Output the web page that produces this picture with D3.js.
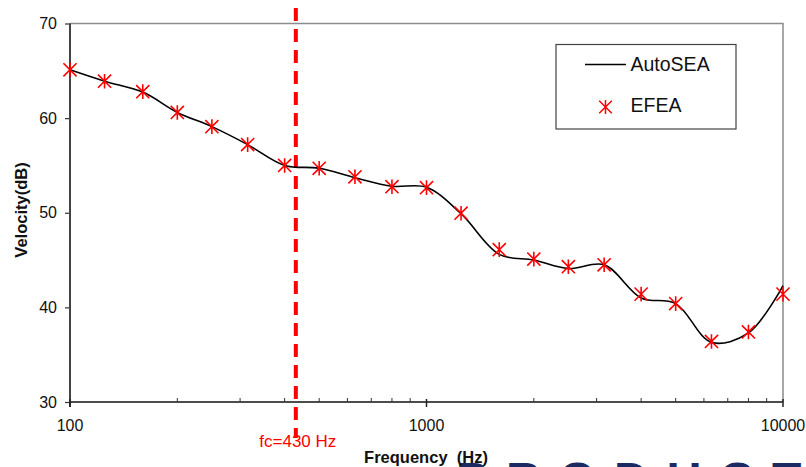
<!DOCTYPE html>
<html>
<head>
<meta charset="utf-8">
<script src="https://cdn.jsdelivr.net/npm/d3@7"></script>
<style>
  html, body { margin: 0; padding: 0; background: #fff; }
  svg { display: block; font-family: "Liberation Sans", Arial, sans-serif; }
</style>
</head>
<body>
<svg id="chart" width="806" height="467"></svg>
<script>
// ---- data ----
const frequencies = [100, 125, 160, 200, 250, 315, 400, 500, 630, 800, 1000, 1250, 1600, 2000, 2500, 3150, 4000, 5000, 6300, 8000, 10000];
const autoSEA = [65.1, 63.9, 62.75, 60.6, 59.1, 57.2, 55.0, 54.7, 53.7, 52.8, 52.7, 49.9, 45.6, 45.0, 44.1, 44.5, 41.0, 40.4, 36.3, 37.3, 42.3];
const efea    = [65.1, 63.9, 62.8, 60.6, 59.1, 57.2, 55.0, 54.7, 53.8, 52.75, 52.65, 49.95, 46.1, 45.1, 44.3, 44.5, 41.4, 40.4, 36.4, 37.4, 41.4];
const yTickValues = [30, 40, 50, 60, 70];
const xTickValues = [100, 1000, 10000];
const xTickLabels = ["100", "1000", "10000"];
const cutoffFreq = 430;
const cutoffLabel = "fc=430 Hz";
const seriesNames = ["AutoSEA", "EFEA"];

const svg = d3.select("#chart");
const x = d3.scaleLog().domain([100, 10000]).range([70, 783]);
const y = d3.scaleLinear().domain([30, 70]).range([402, 23.5]);

// background slide text (partially visible)
svg.append("text")
  .attr("x", 456).attr("y", 496)
  .attr("font-size", 48).attr("font-weight", "bold")
  .attr("letter-spacing", 18)
  .attr("fill", "#1b2a63")
  .text("PRODUCT");

// plot area border (top/right)
svg.append("path")
  .attr("d", `M${x(100)},${y(70)}H${x(10000)}V${y(30)}`)
  .attr("fill", "none").attr("stroke", "#8c8c8c").attr("stroke-width", 1.5);

// Y axis
const yAxis = d3.axisLeft(y).tickValues(yTickValues).tickSize(5).tickPadding(8).tickFormat(d3.format("d"));
const gy = svg.append("g").attr("transform", `translate(${x(100)},0)`).call(yAxis);
gy.select(".domain").remove();
gy.selectAll(".tick line").attr("stroke", "#333").attr("stroke-width", 1.2);
gy.selectAll(".tick text").attr("font-size", 16).attr("fill", "#111").attr("font-family", "Liberation Sans, Arial, sans-serif");
svg.append("line")
  .attr("x1", x(100)).attr("x2", x(100)).attr("y1", y(70)).attr("y2", y(30) + 5)
  .attr("stroke", "#444").attr("stroke-width", 2);

// X axis
const gx = svg.append("g").attr("transform", `translate(0,${y(30)})`);
gx.append("line").attr("x1", x(100)).attr("x2", x(10000)).attr("stroke", "#111").attr("stroke-width", 1.6);
gx.selectAll(".minor").data(x.ticks().filter(d => !xTickValues.includes(d)))
  .join("line").attr("class", "minor")
  .attr("x1", d => x(d)).attr("x2", d => x(d)).attr("y1", 0).attr("y2", -4)
  .attr("stroke", "#333").attr("stroke-width", 1);
gx.selectAll(".major").data(xTickValues)
  .join("line").attr("class", "major")
  .attr("x1", d => x(d)).attr("x2", d => x(d)).attr("y1", -3).attr("y2", 5)
  .attr("stroke", "#222").attr("stroke-width", 1.5);
gx.selectAll(".xlab").data(xTickValues)
  .join("text").attr("class", "xlab")
  .attr("x", d => x(d)).attr("y", 29)
  .attr("text-anchor", "middle").attr("font-size", 16).attr("fill", "#111")
  .text((d, i) => xTickLabels[i]);

// axis titles
svg.append("text")
  .attr("x", 426).attr("y", 462.5)
  .attr("text-anchor", "middle").attr("font-size", 16.5).attr("font-weight", "bold")
  .attr("fill", "#111").style("white-space", "pre")
  .text("Frequency  (Hz)");
svg.append("text")
  .attr("transform", "translate(27,210) rotate(-90)")
  .attr("text-anchor", "middle").attr("font-size", 16.5).attr("font-weight", "bold")
  .attr("fill", "#111")
  .text("Velocity(dB)");

// cutoff line
svg.append("line")
  .attr("x1", x(cutoffFreq)).attr("x2", x(cutoffFreq))
  .attr("y1", 8).attr("y2", 438)
  .attr("stroke", "#ff0000").attr("stroke-width", 4)
  .attr("stroke-dasharray", "13,8");
svg.append("text")
  .attr("x", x(cutoffFreq) + 2).attr("y", 446.5)
  .attr("text-anchor", "middle").attr("font-size", 17).attr("fill", "#ff0000")
  .text(cutoffLabel);

// AutoSEA line
const lineData = frequencies.map((f, i) => [f, autoSEA[i]]);
svg.append("path")
  .datum(lineData)
  .attr("d", d3.line().x(d => x(d[0])).y(d => y(d[1])).curve(d3.curveCatmullRom.alpha(0.5)))
  .attr("fill", "none").attr("stroke", "#000").attr("stroke-width", 1.6);

// star marker
function starPath(s) {
  const h = s, d = s * 0.9;
  return `M0,${-h}V${h}M${-d},${-d}L${d},${d}M${-d},${d}L${d},${-d}`;
}
svg.append("g").selectAll("path")
  .data(frequencies.map((f, i) => [f, efea[i]]))
  .join("path")
  .attr("transform", d => `translate(${x(d[0])},${y(d[1])})`)
  .attr("d", starPath(7.3))
  .attr("fill", "none").attr("stroke", "#ff0000").attr("stroke-width", 1.6);

// legend
const lg = svg.append("g");
lg.append("rect").attr("x", 556).attr("y", 44.5).attr("width", 180).attr("height", 84.5)
  .attr("fill", "#fff").attr("stroke", "#444").attr("stroke-width", 1.2);
lg.append("line").attr("x1", 585).attr("x2", 626).attr("y1", 64.5).attr("y2", 64.5)
  .attr("stroke", "#000").attr("stroke-width", 1.6);
lg.append("text").attr("x", 630.5).attr("y", 70.5).attr("font-size", 19.5).attr("fill", "#111").text(seriesNames[0]);
lg.append("path").attr("transform", "translate(605.5,107)").attr("d", starPath(7))
  .attr("fill", "none").attr("stroke", "#ff0000").attr("stroke-width", 1.5);
lg.append("text").attr("x", 630.5).attr("y", 112).attr("font-size", 19.5).attr("fill", "#111").text(seriesNames[1]);
</script>
</body>
</html>
